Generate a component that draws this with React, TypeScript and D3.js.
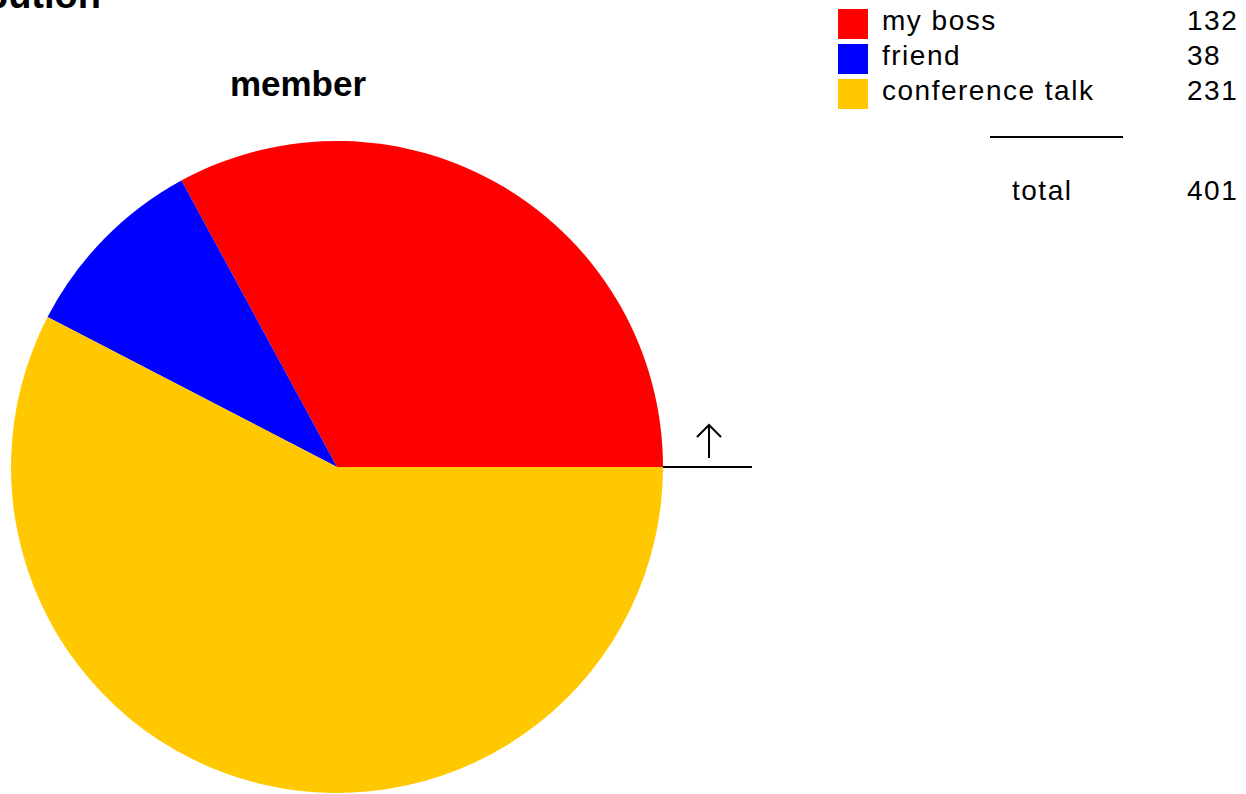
import { useEffect, useRef } from 'react';
import * as d3 from 'd3';

const categories = ['my boss', 'friend', 'conference talk'];
const values = [132, 38, 231];
const colors = ['#ff0000', '#0000ff', '#ffc800'];
const chartTitle = 'member';
const pageTitle = 'distribution';

const App = () => {
  const ref = useRef<SVGSVGElement | null>(null);

  useEffect(() => {
    const width = 1246;
    const height = 794;
    const cx = 337;
    const cy = 467;
    const radius = 326;

    const svg = d3.select(ref.current);
    svg.selectAll('*').remove();
    svg.attr('width', width).attr('height', height);

    const data = categories.map((key, i) => ({ key, y: values[i], color: colors[i] }));

    // start at 3 o'clock, go counter-clockwise
    const pie = d3
      .pie<{ key: string; y: number; color: string }>()
      .value((d) => d.y)
      .sort(null)
      .startAngle(Math.PI / 2)
      .endAngle(Math.PI / 2 - 2 * Math.PI);
    const arc = d3.arc<d3.PieArcDatum<{ key: string; y: number; color: string }>>().innerRadius(0).outerRadius(radius);

    const g = svg.append('g').attr('transform', `translate(${cx},${cy})`);
    g.selectAll('path')
      .data(pie(data))
      .enter()
      .append('path')
      .attr('d', arc)
      .attr('fill', (d) => d.data.color);

    // start marker: line + arrow
    g.append('line')
      .attr('x1', radius)
      .attr('x2', radius + 89)
      .attr('y1', 0)
      .attr('y2', 0)
      .attr('stroke', '#000')
      .attr('stroke-width', 2);
    g.append('line')
      .attr('x1', radius + 46)
      .attr('x2', radius + 46)
      .attr('y1', -9)
      .attr('y2', -42)
      .attr('stroke', '#000')
      .attr('stroke-width', 2);
    g.append('path')
      .attr('d', `M${radius + 34},-30 L${radius + 46},-42 L${radius + 58},-30`)
      .attr('fill', 'none')
      .attr('stroke', '#000')
      .attr('stroke-width', 2);

    // titles
    svg
      .append('text')
      .attr('x', 101)
      .attr('y', 8)
      .attr('text-anchor', 'end')
      .style('font-family', 'Liberation Sans, Arial, sans-serif')
      .style('font-weight', 'bold')
      .style('font-size', '38px')
      .text(pageTitle);
    svg
      .append('text')
      .attr('x', 298)
      .attr('y', 96)
      .attr('text-anchor', 'middle')
      .style('font-family', 'Liberation Sans, Arial, sans-serif')
      .style('font-weight', 'bold')
      .style('font-size', '35px')
      .text(chartTitle);

    // legend
    const legend = svg.append('g');
    const rows = legend
      .selectAll('g')
      .data(data)
      .enter()
      .append('g')
      .attr('transform', (_d, i) => `translate(838,${9 + i * 35})`);
    rows.append('rect').attr('width', 30).attr('height', 30).attr('fill', (d) => d.color);
    const textStyle = (sel: d3.Selection<SVGTextElement, any, any, any>) =>
      sel
        .style('font-family', 'Liberation Sans, Arial, sans-serif')
        .style('font-size', '28px')
        .style('letter-spacing', '1.5px')
        .attr('fill', '#000');
    rows.append('text').attr('x', 44).attr('y', 21).text((d) => d.key).call(textStyle);
    rows.append('text').attr('x', 349).attr('y', 21).text((d) => String(d.y)).call(textStyle);

    legend
      .append('line')
      .attr('x1', 990)
      .attr('x2', 1123)
      .attr('y1', 137)
      .attr('y2', 137)
      .attr('stroke', '#000')
      .attr('stroke-width', 2);
    legend.append('text').attr('x', 1012).attr('y', 200).text('total').call(textStyle);
    legend
      .append('text')
      .attr('x', 1187)
      .attr('y', 200)
      .text(String(d3.sum(values)))
      .call(textStyle);
  }, []);

  return <svg ref={ref} style={{ position: 'absolute', left: 0, top: 0, background: '#fff' }} />;
};

export default App;
